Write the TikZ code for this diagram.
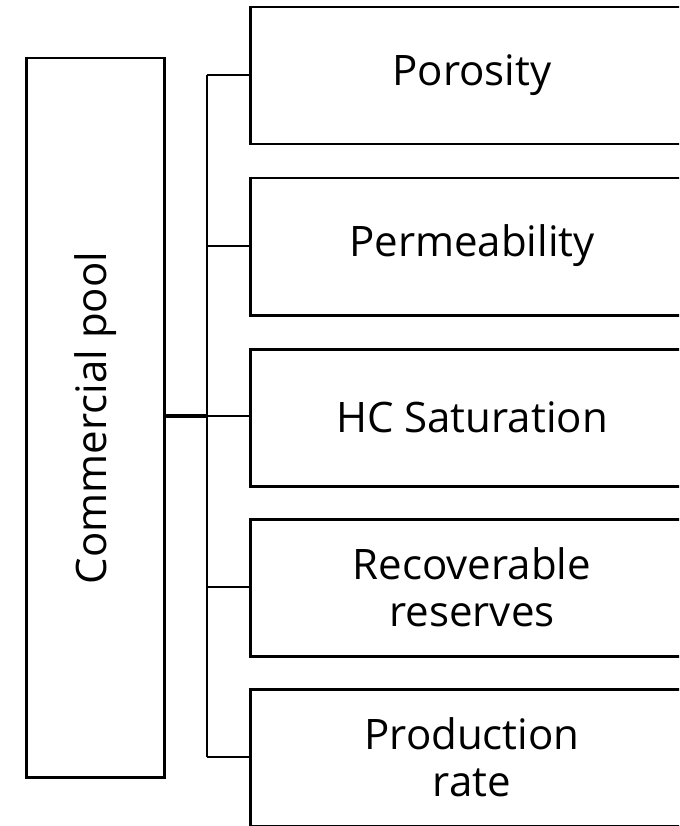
\documentclass[tikz,border=0pt]{standalone}
\usepackage{fontspec}
\setmainfont{Open Sans}
\begin{document}
\begin{tikzpicture}[x=1pt,y=-1pt,
  box/.style={draw=black,line width=2.5pt,fill=white,inner sep=0pt,anchor=north west},
  lbl/.style={font=\fontsize{42}{47}\selectfont,align=center},
  conn/.style={line width=2.5pt}]
\useasboundingbox (0,0) rectangle (679,826);
\clip (0,0) rectangle (679,826);
\node[box,minimum width=138pt,minimum height=719pt] (cp) at (25,57) {};
\node[lbl,rotate=90] at (96,418) {Commercial pool};
\foreach \i/\y/\t in {1/6/Porosity,2/177/Permeability,3/348/HC Saturation,4/518/{Recoverable\\reserves},5/688/{Production\\rate}}{
  \node[box,minimum width=460pt,minimum height=137pt] (b\i) at (249,\y) {};
  \node[lbl] at (472,\y+69) {\t};
}
\coordinate (j) at (207,416);
\draw[line width=3.5pt] (cp.east|-j) -- (j);
\draw[conn] (207,75) -- (207,757);
\foreach \i/\y in {1/75,2/246,3/416,4/587,5/757}{
  \draw[conn] (207,\y) -- (b\i.west|-{(0,\y)});
}
\end{tikzpicture}
\end{document}
